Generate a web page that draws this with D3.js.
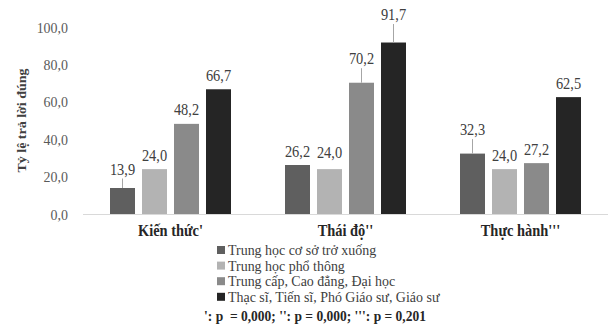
<!DOCTYPE html>
<html>
<head>
  <meta charset='utf-8'>
  <title>ty le tra loi dung</title>
  <script src="https://cdn.jsdelivr.net/npm/d3@7"></script>
  <style>
    html, body { margin: 0; padding: 0; background: #fff; }
    svg { display: block; font-family: "Liberation Serif", "Times New Roman", serif; }
  </style>
</head>
<body>
<div id="chart"></div>
<script>
// data
const categories = ["Kiến thức'", "Thái độ''", "Thực hành'''"];
const seriesNames = [
  "Trung học cơ sở trở xuống",
  "Trung học phổ thông",
  "Trung cấp, Cao đẳng, Đại học",
  "Thạc sĩ, Tiến sĩ, Phó Giáo sư, Giáo sư"
];
const values = [
  [13.9, 26.2, 32.3],
  [24.0, 24.0, 24.0],
  [48.2, 70.2, 27.2],
  [66.7, 91.7, 62.5]
];
const yTicks = [0, 20, 40, 60, 80, 100];
const footnote = "': p  = 0,000; '': p = 0,000; ''': p = 0,201";

// layout
const W = 611, H = 327;
const colors = ["#5f5f5f", "#b3b3b3", "#8a8a8a", "#252525"];
const squeeze = 0.9; // the source picture is a bit narrow
// extra lift of a few data labels (moved in the original, leader lines shown)
const labelLift = [
  [5, 0, 10],
  [0, 3, 0],
  [0, 10, 0],
  [0, 14, 0]
];

const svg = d3.select("#chart").append("svg")
  .attr("width", W).attr("height", H);

// text placed at (x,y), squeezed horizontally
function label(sel, x, y) {
  return sel.attr("transform", (d, i) => {
    const xx = typeof x === "function" ? x(d, i) : x;
    const yy = typeof y === "function" ? y(d, i) : y;
    return `translate(${xx},${yy}) scale(${squeeze},1)`;
  });
}

const x0 = d3.scaleBand().domain(categories).range([83, 608]);
const x1 = d3.scaleBand().domain(d3.range(seriesNames.length))
  .range([27, 148]).paddingInner(7 / 32);
const y = d3.scaleLinear().domain([0, 100]).range([214, 27]);

const fmt = v => d3.format(".1f")(v).replace(".", ",");

// y axis labels (no line)
svg.append("g").selectAll("text")
  .data(yTicks).join("text")
  .call(label, 68, d => y(d) + 5.5)
  .attr("text-anchor", "end")
  .attr("font-size", 15.5).attr("fill", "#595959")
  .text(fmt);

svg.append("text")
  .attr("transform", `translate(26,${y(50)}) rotate(-90) scale(1,${squeeze})`)
  .attr("text-anchor", "middle")
  .attr("font-size", 14).attr("font-weight", "bold").attr("fill", "#404040")
  .text("Tỷ lệ trả lời đúng");

// baseline
svg.append("line")
  .attr("x1", 83).attr("x2", 608)
  .attr("y1", y(0) + 0.5).attr("y2", y(0) + 0.5)
  .attr("stroke", "#d9d9d9");

// bars + data labels
seriesNames.forEach((s, si) => {
  categories.forEach((c, ci) => {
    const v = values[si][ci];
    const bx = x0(c) + x1(si);
    const cx = bx + x1.bandwidth() / 2;
    svg.append("rect")
      .attr("x", bx).attr("y", y(v))
      .attr("width", x1.bandwidth()).attr("height", y(0) - y(v))
      .attr("fill", colors[si]);
    const lift = labelLift[si][ci];
    const ly = y(v) - 8.5 - lift;
    if (lift > 4) {
      svg.append("line")
        .attr("x1", cx).attr("x2", cx)
        .attr("y1", ly + 4).attr("y2", y(v))
        .attr("stroke", "#a6a6a6");
    }
    svg.append("text")
      .call(label, cx, ly)
      .attr("text-anchor", "middle")
      .attr("font-size", 16).attr("fill", "#404040")
      .text(fmt(v));
  });
});

// category labels
svg.append("g").selectAll("text")
  .data(categories).join("text")
  .call(label, d => x0(d) + x0.bandwidth() / 2, 236)
  .attr("text-anchor", "middle")
  .attr("font-size", 16).attr("font-weight", "bold").attr("fill", "#262626")
  .text(d => d);

// legend
const leg = svg.append("g").selectAll("g")
  .data(seriesNames).join("g")
  .attr("transform", (d, i) => `translate(217,${250 + i * 15.6})`);
leg.append("rect")
  .attr("x", 0).attr("y", -4).attr("width", 8).attr("height", 8)
  .attr("fill", (d, i) => colors[i]);
leg.append("text")
  .call(label, 11, 5)
  .attr("font-size", 15.5).attr("fill", "#404040")
  .text(d => d);

svg.append("text")
  .call(label, 315, 321)
  .attr("text-anchor", "middle")
  .attr("font-size", 15).attr("font-weight", "bold").attr("fill", "#262626")
  .style("white-space", "pre")
  .text(footnote);
</script>
</body>
</html>
